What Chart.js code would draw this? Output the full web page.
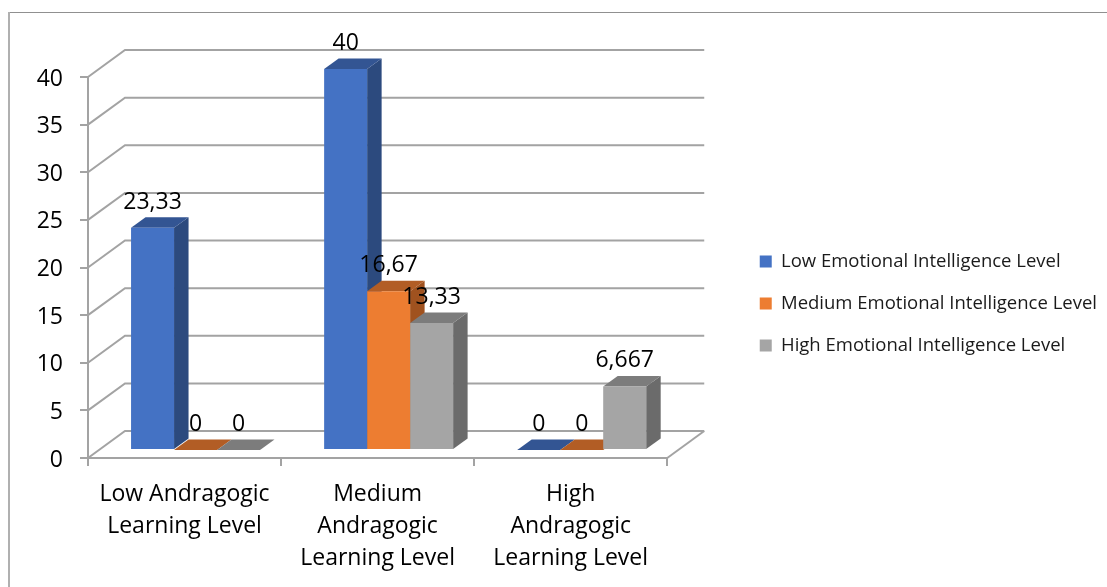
<!DOCTYPE html>
<html>
<head>
<meta charset="utf-8">
<script src="https://cdn.jsdelivr.net/npm/chart.js@4"></script>
<style>
  html, body { margin: 0; background: #fff; }
  canvas { display: block; }
</style>
</head>
<body>
<canvas id="chart3d" width="1107" height="587"></canvas>
<script>
const categories = [
    ['Low Andragogic', 'Learning Level'],
    ['Medium', 'Andragogic', 'Learning Level'],
    ['High', 'Andragogic', 'Learning Level']
];
const lowEmotional = [23.33, 40, 0];
const mediumEmotional = [0, 16.67, 0];
const highEmotional = [0, 13.33, 6.667];

const fontName = '"Open Sans", sans-serif';
const gridColor = '#a3a3a3';

// floor depth, and how far the bars stand in from the front edge
const wallX = 37, wallY = -27;
const barShiftX = 11, barShiftY = -8;
const barDepthX = 14.5, barDepthY = -10.5;

// top and side colours for each series
const shades = [
    { top: '#335593', side: '#2c4a7e' },
    { top: '#b25d25', side: '#a0521f' },
    { top: '#7c7c7c', side: '#6b6b6b' }
];

// draws the walls and floor lines behind the bars
const wallsPlugin = {
    id: 'walls',
    beforeDatasetsDraw(chart) {
        const { ctx, chartArea: area, scales } = chart;
        ctx.save();
        ctx.strokeStyle = gridColor;
        ctx.lineWidth = 2;
        scales.y.ticks.forEach(t => {
            const y = scales.y.getPixelForValue(t.value);
            ctx.beginPath();
            ctx.moveTo(area.left, y);
            ctx.lineTo(area.left + wallX, y + wallY);
            ctx.lineTo(area.right + wallX, y + wallY);
            ctx.stroke();
        });
        const y0 = scales.y.getPixelForValue(0);
        ctx.beginPath();
        ctx.moveTo(area.right + wallX, y0 + wallY);
        ctx.lineTo(area.right, y0);
        ctx.stroke();
        ctx.restore();
    },
    beforeDraw(chart) {
        const { ctx } = chart;
        ctx.save();
        ctx.fillStyle = '#fff';
        ctx.fillRect(0, 0, chart.width, chart.height);
        // picture frame, only top and left are in view
        ctx.fillStyle = '#909090';
        ctx.fillRect(8, 12, chart.width - 8, 1);
        ctx.fillStyle = '#b0b0b0';
        ctx.fillRect(8, 12, 2, chart.height - 12);
        ctx.restore();
    }
};

// side and top faces go down first, left to right, the library then paints the fronts
const barFacesPlugin = {
    id: 'barFaces',
    beforeDatasetsDraw(chart) {
        const { ctx } = chart;
        ctx.save();
        ctx.translate(barShiftX, barShiftY);
        chart.data.datasets.forEach((ds, i) => {
            const shade = shades[i];
            chart.getDatasetMeta(i).data.forEach(bar => {
                const left = bar.x - bar.width / 2, right = bar.x + bar.width / 2;
                ctx.fillStyle = shade.side;
                ctx.beginPath();
                ctx.moveTo(right, bar.base);
                ctx.lineTo(right + barDepthX, bar.base + barDepthY);
                ctx.lineTo(right + barDepthX, bar.y + barDepthY);
                ctx.lineTo(right, bar.y);
                ctx.closePath();
                ctx.fill();
                ctx.fillStyle = shade.top;
                ctx.beginPath();
                ctx.moveTo(left, bar.y);
                ctx.lineTo(left + barDepthX, bar.y + barDepthY);
                ctx.lineTo(right + barDepthX, bar.y + barDepthY);
                ctx.lineTo(right, bar.y);
                ctx.closePath();
                ctx.fill();
            });
        });
        ctx.restore();
    },
    beforeDatasetDraw(chart) {
        chart.ctx.save();
        chart.ctx.translate(barShiftX, barShiftY);
    },
    afterDatasetDraw(chart) {
        chart.ctx.restore();
    },
    afterDatasetsDraw(chart) {
        const { ctx } = chart;
        ctx.save();
        ctx.font = '23px ' + fontName;
        ctx.fillStyle = '#000';
        ctx.textAlign = 'center';
        ctx.textBaseline = 'alphabetic';
        chart.data.datasets.forEach((ds, i) => {
            chart.getDatasetMeta(i).data.forEach((bar, j) => {
                ctx.fillText(String(ds.data[j]).replace('.', ','), bar.x + barShiftX, bar.y + barShiftY - 19);
            });
        });
        ctx.restore();
    }
};

new Chart(document.getElementById('chart3d'), {
    type: 'bar',
    data: {
        labels: categories,
        datasets: [
            { label: 'Low Emotional Intelligence Level', data: lowEmotional, backgroundColor: '#4472c4' },
            { label: 'Medium Emotional Intelligence Level', data: mediumEmotional, backgroundColor: '#ed7d31' },
            { label: 'High Emotional Intelligence Level', data: highEmotional, backgroundColor: '#a5a5a5' }
        ]
    },
    plugins: [wallsPlugin, barFacesPlugin],
    options: {
        responsive: false,
        animation: false,
        clip: false,
        categoryPercentage: 0.668,
        barPercentage: 1,
        layout: { padding: { top: 20 } },
        plugins: {
            tooltip: { enabled: false },
            legend: {
                position: 'right',
                maxWidth: 371,
                labels: {
                    boxWidth: 12,
                    boxHeight: 12,
                    padding: 23.5,
                    color: '#1a1a1a',
                    font: { family: fontName, size: 18.5 }
                }
            }
        },
        scales: {
            x: {
                grid: { drawOnChartArea: false, color: gridColor, lineWidth: 2, tickLength: 8 },
                border: { color: gridColor, width: 2 },
                ticks: {
                    color: '#000',
                    padding: 12,
                    maxRotation: 0,
                    autoSkip: false,
                    font: { family: fontName, size: 23, lineHeight: '32px' }
                },
                afterFit(scale) { scale.height = 129; }
            },
            y: {
                min: 0,
                max: 40,
                grid: { drawOnChartArea: false, color: gridColor, lineWidth: 2, tickLength: 8 },
                border: { color: gridColor, width: 2 },
                ticks: {
                    stepSize: 5,
                    color: '#000',
                    padding: 17,
                    labelOffset: 2,
                    font: { family: fontName, size: 23 }
                },
                afterFit(scale) { scale.width = 88; }
            },
            // empty axes, they only hold the room that the 3d depth needs
            gapTop: {
                type: 'linear',
                position: 'top',
                ticks: { display: false },
                grid: { display: false },
                border: { display: false },
                afterFit(scale) { scale.height = 57; }
            },
            gapRight: {
                type: 'linear',
                position: 'right',
                ticks: { display: false },
                grid: { display: false },
                border: { display: false },
                afterFit(scale) { scale.width = 69; }
            }
        }
    }
});
</script>
</body>
</html>
